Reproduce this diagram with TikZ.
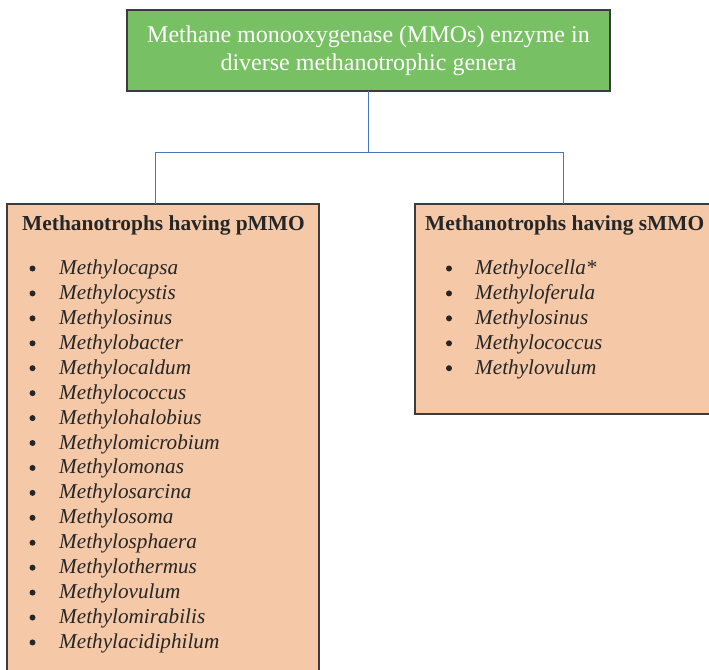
\documentclass[tikz,border=0pt]{standalone}
\usepackage{fontspec}
\setmainfont{Liberation Serif}
\definecolor{headgreen}{HTML}{78C064}
\definecolor{peach}{HTML}{F5C9A7}
\definecolor{edgegray}{HTML}{3C3C3C}
\definecolor{linkblue}{HTML}{4A74C4}
\tikzset{
  box/.style={draw=edgegray, line width=1.2pt, inner sep=0pt, outer sep=0pt},
  headbox/.style={box, fill=headgreen, minimum width=483pt, minimum height=81pt,
    text=white, font=\fontsize{24}{28}\selectfont, align=center},
  groupbox/.style={box, fill=peach, anchor=north west},
  grouptitle/.style={font=\bfseries\fontsize{21.4}{24}\selectfont, text=black!85, anchor=base west, inner sep=0pt},
  genus/.style={font=\itshape\fontsize{21.2}{24}\selectfont, text=black!85, anchor=base west, inner sep=0pt},
  dot/.style={circle, fill=black!85, inner sep=0pt, minimum size=6pt},
  link/.style={draw=linkblue, line width=0.9pt}
}
\begin{document}
\begin{tikzpicture}[x=1pt,y=1pt]
\useasboundingbox (0,0) rectangle (709,-669);
\clip (0,0) rectangle (709,-669);

% heading box
\node[headbox] (top) at (368.5,-50.5) {Methane monooxygenase (MMOs) enzyme in\\diverse methanotrophic genera};

% the two groups
\node[groupbox, minimum width=312pt, minimum height=490pt] (left) at (7,-204) {};
\node[groupbox, minimum width=300pt, minimum height=210pt] (right) at (415,-204) {};

% connectors
\coordinate (split) at (368.5,-152);
\coordinate (ldrop) at (155,-204);
\coordinate (rdrop) at (563,-204);
\draw[link] (top.south) -- (split);
\draw[link] (split) -| (ldrop);
\draw[link] (split) -| (rdrop);

% left group content
\node[grouptitle] (ltitle) at (22,-230.5) {Methanotrophs having pMMO};
\foreach \g [count=\i from 0] in {Methylocapsa,Methylocystis,Methylosinus,Methylobacter,
  Methylocaldum,Methylococcus,Methylohalobius,Methylomicrobium,Methylomonas,
  Methylosarcina,Methylosoma,Methylosphaera,Methylothermus,Methylovulum,
  Methylomirabilis,Methylacidiphilum}{
  \node[genus] (lg\i) at (59,{-274.5-24.93*\i}) {\g};
  \node[dot] (ld\i) at (32.5,{-268.5-24.93*\i}) {};
}

% right group content
\node[grouptitle] (rtitle) at (425,-230.5) {Methanotrophs having sMMO};
\foreach \g [count=\i from 0] in {Methylocella*,Methyloferula,Methylosinus,Methylococcus,Methylovulum}{
  \node[genus] (rg\i) at (475,{-274.5-24.93*\i}) {\g};
  \node[dot] (rd\i) at (449,{-268.5-24.93*\i}) {};
}
\end{tikzpicture}
\end{document}
